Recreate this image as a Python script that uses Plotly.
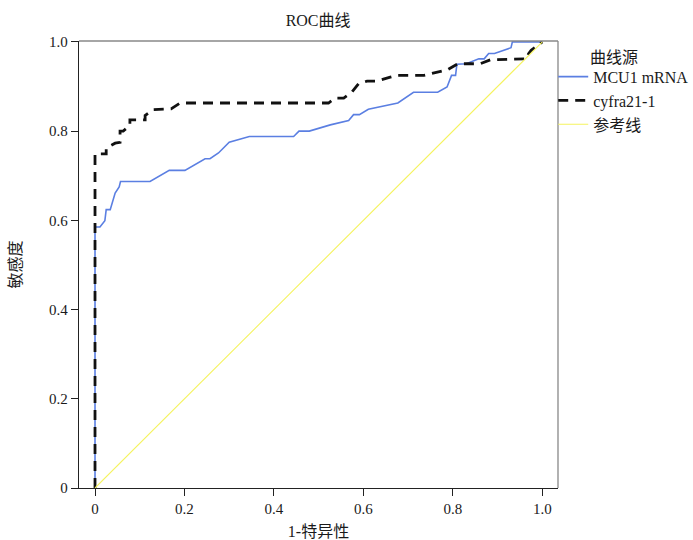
import plotly.graph_objects as go

# MCU1 mRNA ROC curve (1-specificity, sensitivity)
mcu_x = [0, 0, 0.011, 0.022, 0.025, 0.034, 0.045, 0.054, 0.057, 0.123, 0.166, 0.201, 0.246, 0.257,
         0.276, 0.300, 0.345, 0.444, 0.456, 0.479, 0.526, 0.567, 0.578, 0.591, 0.611, 0.677, 0.712,
         0.766, 0.787, 0.797, 0.806, 0.809, 0.830, 0.858, 0.870, 0.880, 0.893, 0.930, 0.933, 1.0]
mcu_y = [0, 0.585, 0.585, 0.599, 0.624, 0.624, 0.661, 0.675, 0.687, 0.687, 0.712, 0.712, 0.738, 0.738,
         0.751, 0.775, 0.788, 0.788, 0.800, 0.800, 0.814, 0.824, 0.837, 0.837, 0.849, 0.863, 0.887,
         0.887, 0.899, 0.925, 0.925, 0.950, 0.951, 0.962, 0.962, 0.974, 0.974, 0.987, 1.0, 1.0]

# cyfra21-1 ROC curve
cyf_x = [0, 0, 0.025, 0.025, 0.045, 0.056, 0.056, 0.063, 0.078, 0.078, 0.112, 0.112, 0.130, 0.170,
         0.190, 0.522, 0.537, 0.556, 0.574, 0.589, 0.608, 0.630, 0.660, 0.675, 0.735, 0.787, 0.811,
         0.861, 0.884, 0.966, 0.969, 0.975, 1.0]
cyf_y = [0, 0.749, 0.749, 0.762, 0.773, 0.775, 0.800, 0.800, 0.813, 0.825, 0.825, 0.835, 0.848, 0.850,
         0.863, 0.863, 0.874, 0.874, 0.887, 0.906, 0.912, 0.912, 0.921, 0.925, 0.925, 0.937, 0.951,
         0.951, 0.960, 0.962, 0.973, 0.981, 1.0]

ref_x = [0, 1]
ref_y = [0, 1]

tick_vals = [0, 0.2, 0.4, 0.6, 0.8, 1.0]
tick_text = ["0", "0.2", "0.4", "0.6", "0.8", "1.0"]

FONT = "Liberation Serif, Noto Sans CJK SC, serif"
TXT = "#1a1a1a"

fig = go.Figure()
fig.add_trace(go.Scatter(x=mcu_x, y=mcu_y, mode="lines", name="MCU1 mRNA",
                         line=dict(color="#5b7fe2", width=1.6)))
fig.add_trace(go.Scatter(x=cyf_x, y=cyf_y, mode="lines", name="cyfra21-1",
                         line=dict(color="#111111", width=2.8, dash="10px,7px")))
fig.add_trace(go.Scatter(x=ref_x, y=ref_y, mode="lines", name="参考线",
                         line=dict(color="#f5f35e", width=1.1)))

fig.update_layout(
    width=693, height=540,
    margin=dict(l=79, r=135, t=41, b=52, autoexpand=False),
    paper_bgcolor="white", plot_bgcolor="white",
    font=dict(family=FONT, size=15, color=TXT),
    title=dict(text="ROC曲线", x=0.459, xanchor="center", y=0.963, yanchor="middle",
               font=dict(family=FONT, size=16, color=TXT)),
    legend=dict(x=0.99, xanchor="left", y=0.958, yanchor="top",
                bgcolor="rgba(0,0,0,0)", font=dict(family=FONT, size=16, color=TXT),
                itemwidth=30, tracegroupgap=0),
    showlegend=True,
)
fig.update_xaxes(range=[-0.0358, 1.035], tickvals=tick_vals, ticktext=tick_text,
                 showgrid=False, zeroline=False, showline=True, linecolor="#222",
                 linewidth=1.3, ticks="outside", ticklen=7, tickcolor="#222", automargin=False,
                 title=dict(text="1-特异性", standoff=10, font=dict(size=16)))
fig.update_yaxes(range=[0, 1.002], tickvals=tick_vals, ticktext=tick_text,
                 showgrid=False, zeroline=False, showline=True, linecolor="#222",
                 linewidth=1.3, ticks="outside", ticklen=7, tickcolor="#222", automargin=False,
                 title=dict(text="敏感度", standoff=23, font=dict(size=16)))
# gray top and right frame
fig.add_shape(type="line", xref="paper", yref="paper", x0=0, x1=1, y0=1, y1=1,
              line=dict(color="#888", width=1.3))
fig.add_shape(type="line", xref="paper", yref="paper", x0=1, x1=1, y0=0, y1=1,
              line=dict(color="#888", width=1.3))
fig.add_annotation(text="曲线源", xref="paper", yref="paper", x=1.062, y=0.964,
                   xanchor="left", yanchor="middle", showarrow=False,
                   font=dict(family=FONT, size=16, color=TXT))

fig.write_html("out.html", config={"displayModeBar": False},
               post_script="document.body.style.margin='0';document.body.style.padding='0';")
